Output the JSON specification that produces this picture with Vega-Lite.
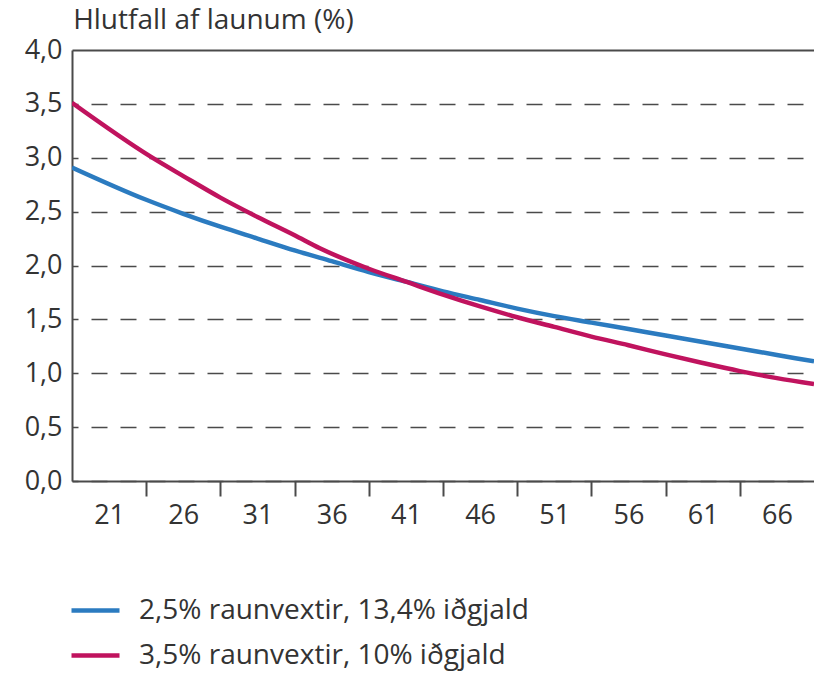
{
  "$schema": "https://vega.github.io/schema/vega-lite/v6.json",
  "width": 742,
  "height": 431,
  "autosize": {"type": "none"},
  "padding": {"left": 72, "top": 50, "right": 0, "bottom": 193},
  "background": "white",
  "title": {"text": "Hlutfall af launum (%)", "anchor": "start", "fontSize": 28, "font": "Open Sans", "fontWeight": "normal", "color": "#333333", "offset": -21, "dx": 49, "baseline": "alphabetic"},
  "data": {"values": [
    {"age": 18.5, "v": 2.91, "s": "2,5% raunvextir, 13,4% iðgjald"},
    {"age": 23.5, "v": 2.61, "s": "2,5% raunvextir, 13,4% iðgjald"},
    {"age": 26, "v": 2.48, "s": "2,5% raunvextir, 13,4% iðgjald"},
    {"age": 28.5, "v": 2.36, "s": "2,5% raunvextir, 13,4% iðgjald"},
    {"age": 31, "v": 2.25, "s": "2,5% raunvextir, 13,4% iðgjald"},
    {"age": 33.5, "v": 2.14, "s": "2,5% raunvextir, 13,4% iðgjald"},
    {"age": 36, "v": 2.04, "s": "2,5% raunvextir, 13,4% iðgjald"},
    {"age": 38.5, "v": 1.94, "s": "2,5% raunvextir, 13,4% iðgjald"},
    {"age": 41, "v": 1.85, "s": "2,5% raunvextir, 13,4% iðgjald"},
    {"age": 43.5, "v": 1.76, "s": "2,5% raunvextir, 13,4% iðgjald"},
    {"age": 46, "v": 1.68, "s": "2,5% raunvextir, 13,4% iðgjald"},
    {"age": 48.5, "v": 1.6, "s": "2,5% raunvextir, 13,4% iðgjald"},
    {"age": 51, "v": 1.53, "s": "2,5% raunvextir, 13,4% iðgjald"},
    {"age": 53.5, "v": 1.47, "s": "2,5% raunvextir, 13,4% iðgjald"},
    {"age": 56, "v": 1.41, "s": "2,5% raunvextir, 13,4% iðgjald"},
    {"age": 58.5, "v": 1.35, "s": "2,5% raunvextir, 13,4% iðgjald"},
    {"age": 61, "v": 1.29, "s": "2,5% raunvextir, 13,4% iðgjald"},
    {"age": 63.5, "v": 1.23, "s": "2,5% raunvextir, 13,4% iðgjald"},
    {"age": 66, "v": 1.17, "s": "2,5% raunvextir, 13,4% iðgjald"},
    {"age": 68.5, "v": 1.11, "s": "2,5% raunvextir, 13,4% iðgjald"},
    {"age": 18.5, "v": 3.51, "s": "3,5% raunvextir, 10% iðgjald"},
    {"age": 23.8, "v": 3.01, "s": "3,5% raunvextir, 10% iðgjald"},
    {"age": 26, "v": 2.83, "s": "3,5% raunvextir, 10% iðgjald"},
    {"age": 28.5, "v": 2.63, "s": "3,5% raunvextir, 10% iðgjald"},
    {"age": 31, "v": 2.45, "s": "3,5% raunvextir, 10% iðgjald"},
    {"age": 33.5, "v": 2.28, "s": "3,5% raunvextir, 10% iðgjald"},
    {"age": 35.2, "v": 2.16, "s": "3,5% raunvextir, 10% iðgjald"},
    {"age": 38.5, "v": 1.97, "s": "3,5% raunvextir, 10% iðgjald"},
    {"age": 41, "v": 1.85, "s": "3,5% raunvextir, 10% iðgjald"},
    {"age": 43.5, "v": 1.73, "s": "3,5% raunvextir, 10% iðgjald"},
    {"age": 46, "v": 1.62, "s": "3,5% raunvextir, 10% iðgjald"},
    {"age": 48.5, "v": 1.52, "s": "3,5% raunvextir, 10% iðgjald"},
    {"age": 51, "v": 1.43, "s": "3,5% raunvextir, 10% iðgjald"},
    {"age": 53.5, "v": 1.34, "s": "3,5% raunvextir, 10% iðgjald"},
    {"age": 56, "v": 1.26, "s": "3,5% raunvextir, 10% iðgjald"},
    {"age": 58.5, "v": 1.175, "s": "3,5% raunvextir, 10% iðgjald"},
    {"age": 61, "v": 1.095, "s": "3,5% raunvextir, 10% iðgjald"},
    {"age": 63.5, "v": 1.02, "s": "3,5% raunvextir, 10% iðgjald"},
    {"age": 66, "v": 0.955, "s": "3,5% raunvextir, 10% iðgjald"},
    {"age": 68.5, "v": 0.9, "s": "3,5% raunvextir, 10% iðgjald"}
  ]},
  "mark": {"type": "line", "strokeWidth": 4.5, "interpolate": "monotone", "clip": true},
  "encoding": {
    "x": {
      "field": "age", "type": "quantitative",
      "scale": {"domain": [18.5, 68.5], "nice": false, "zero": false},
      "axis": {
        "title": null,
        "values": [21, 23.5, 26, 28.5, 31, 33.5, 36, 38.5, 41, 43.5, 46, 48.5, 51, 53.5, 56, 58.5, 61, 63.5, 66],
        "labelExpr": "datum.value % 1 == 0 ? datum.value : ''",
        "labelOverlap": false,
        "labelFlush": false,
        "tickSize": 15,
        "tickWidth": 2,
        "tickColor": {"condition": {"test": "datum.value % 1 != 0", "value": "#4a4a4a"}, "value": "transparent"},
        "domainColor": "#4a4a4a",
        "domainWidth": 2,
        "labelFont": "Open Sans",
        "labelFontSize": 27,
        "labelColor": "#333333",
        "labelPadding": 6,
        "grid": false
      }
    },
    "y": {
      "field": "v", "type": "quantitative",
      "scale": {"domain": [0, 4], "nice": false},
      "axis": {
        "title": null,
        "values": [0, 0.5, 1, 1.5, 2, 2.5, 3, 3.5, 4],
        "labelExpr": "replace(format(datum.value, '.1f'), '.', ',')",
        "tickSize": 0,
        "labelPadding": 10,
        "labelFont": "Open Sans",
        "labelFontSize": 27,
        "labelColor": "#333333",
        "domainColor": "#4a4a4a",
        "domainWidth": 2,
        "grid": true,
        "gridColor": "#4a4a4a",
        "gridWidth": {"condition": {"test": "datum.value == 4", "value": 2}, "value": 1.6},
        "gridDash": {"condition": {"test": "datum.value == 4", "value": [1, 0]}, "value": [16, 13]},
        "gridDashOffset": 10
      }
    },
    "color": {
      "field": "s", "type": "nominal",
      "scale": {"domain": ["2,5% raunvextir, 13,4% iðgjald", "3,5% raunvextir, 10% iðgjald"], "range": ["#2b7bc0", "#c0135e"]},
      "legend": {
        "title": null,
        "orient": "none",
        "legendX": -3,
        "legendY": 534,
        "symbolType": "stroke",
        "symbolSize": 2304,
        "symbolStrokeWidth": 4.5,
        "labelFont": "Open Sans",
        "labelFontSize": 28,
        "labelColor": "#333333",
        "labelOffset": 17,
        "rowPadding": 4,
        "labelLimit": 600
      }
    }
  },
  "config": {"view": {"stroke": null}}
}
